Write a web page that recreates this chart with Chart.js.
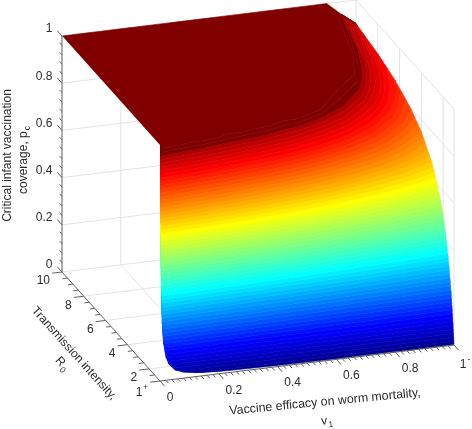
<!DOCTYPE html>
<html>
<head>
<meta charset="utf-8">
<title>Critical infant vaccination coverage</title>
<script src="https://cdn.jsdelivr.net/npm/chart.js@4"></script>
<style>
  html, body { margin: 0; padding: 0; background: #fff; }
  canvas { display: block; }
</style>
</head>
<body>
<canvas id="surface" width="472" height="429"></canvas>
<script>
// values
const efficacy = [0, 0.002, 0.003, 0.005, 0.008, 0.012, 0.02, 0.03, 0.05, 0.08, 0.12, 0.16, 0.2, 0.25, 0.3, 0.35, 0.4, 0.45, 0.5, 0.6, 0.7, 0.8, 0.85, 0.9, 0.95, 1];
const intensity = [1.002, 1.004, 1.006, 1.01, 1.015, 1.02, 1.03, 1.05, 1.08, 1.12, 1.2, 1.3, 1.5, 1.7, 2, 2.5, 3, 4, 5, 6.5, 8, 10];
// one row per efficacy value, one entry per intensity value
const coverage = [
  [1, 1, 1, 1, 1, 1, 1, 1, 1, 1, 1, 1, 1, 1, 1, 1, 1, 1, 1, 1, 1, 1],
  [1, 1, 1, 1, 1, 1, 1, 1, 1, 1, 1, 1, 1, 1, 1, 1, 1, 1, 1, 1, 1, 1],
  [.667, 1, 1, 1, 1, 1, 1, 1, 1, 1, 1, 1, 1, 1, 1, 1, 1, 1, 1, 1, 1, 1],
  [.4, .8, 1, 1, 1, 1, 1, 1, 1, 1, 1, 1, 1, 1, 1, 1, 1, 1, 1, 1, 1, 1],
  [.25, .5, .75, 1, 1, 1, 1, 1, 1, 1, 1, 1, 1, 1, 1, 1, 1, 1, 1, 1, 1, 1],
  [.167, .333, .5, .825, 1, 1, 1, 1, 1, 1, 1, 1, 1, 1, 1, 1, 1, 1, 1, 1, 1, 1],
  [.1, .2, .3, .495, .74, .98, 1, 1, 1, 1, 1, 1, 1, 1, 1, 1, 1, 1, 1, 1, 1, 1],
  [.067, .133, .2, .33, .493, .653, .97, 1, 1, 1, 1, 1, 1, 1, 1, 1, 1, 1, 1, 1, 1, 1],
  [.04, .08, .12, .198, .296, .392, .582, .952, 1, 1, 1, 1, 1, 1, 1, 1, 1, 1, 1, 1, 1, 1],
  [.025, .05, .075, .124, .185, .245, .364, .595, .926, 1, 1, 1, 1, 1, 1, 1, 1, 1, 1, 1, 1, 1],
  [.017, .033, .05, .083, .123, .163, .243, .397, .618, .893, 1, 1, 1, 1, 1, 1, 1, 1, 1, 1, 1, 1],
  [.013, .025, .038, .062, .093, .123, .182, .298, .463, .669, 1, 1, 1, 1, 1, 1, 1, 1, 1, 1, 1, 1],
  [.01, .02, .03, .05, .074, .098, .146, .238, .371, .536, .833, 1, 1, 1, 1, 1, 1, 1, 1, 1, 1, 1],
  [.008, .016, .024, .04, .059, .078, .116, .19, .296, .428, .667, .923, 1, 1, 1, 1, 1, 1, 1, 1, 1, 1],
  [.007, .013, .02, .033, .049, .065, .097, .159, .247, .357, .556, .769, 1, 1, 1, 1, 1, 1, 1, 1, 1, 1],
  [.006, .011, .017, .028, .042, .056, .083, .136, .212, .306, .476, .659, .952, 1, 1, 1, 1, 1, 1, 1, 1, 1],
  [.005, .01, .015, .025, .037, .049, .073, .119, .185, .268, .417, .577, .833, 1, 1, 1, 1, 1, 1, 1, 1, 1],
  [.004, .009, .013, .022, .033, .044, .065, .106, .165, .238, .37, .513, .741, .915, 1, 1, 1, 1, 1, 1, 1, 1],
  [.004, .008, .012, .02, .03, .039, .058, .095, .148, .214, .333, .462, .667, .824, 1, 1, 1, 1, 1, 1, 1, 1],
  [.003, .007, .01, .017, .025, .033, .049, .079, .123, .179, .278, .385, .556, .686, .833, 1, 1, 1, 1, 1, 1, 1],
  [.003, .006, .009, .014, .021, .028, .042, .068, .106, .153, .238, .33, .476, .588, .714, .857, .952, 1, 1, 1, 1, 1],
  [.003, .005, .008, .012, .019, .025, .036, .06, .093, .134, .208, .289, .417, .515, .625, .75, .833, .938, 1, 1, 1, 1],
  [.002, .005, .007, .012, .017, .023, .034, .056, .087, .126, .196, .272, .392, .484, .588, .706, .784, .882, .941, .995, 1, 1],
  [.002, .004, .007, .011, .016, .022, .032, .053, .082, .119, .185, .256, .37, .458, .556, .667, .741, .833, .889, .94, .972, 1],
  [.002, .004, .006, .01, .016, .021, .031, .05, .078, .113, .175, .243, .351, .433, .526, .632, .702, .789, .842, .891, .921, .947],
  [.002, .004, .006, .01, .015, .02, .029, .048, .074, .107, .167, .231, .333, .412, .5, .6, .667, .75, .8, .846, .875, .9]
];

const efficacyTicks = [0, 0.2, 0.4, 0.6, 0.8, 1];
const intensityTicks = [2, 4, 6, 8, 10];
const coverageTicks = [0, 0.2, 0.4, 0.6, 0.8, 1];
const colourLevels = 64;

// the 3d box seen from the front, flattened on to the x/y scales of the chart
function project(v, r0, z) {
    const t = (r0 - 1) / 9;
    return { x: 160 + 294 * v - 98 * t, y: 381 - 36 * v - 109 * t - 236 * z };
}

// jet colour map, the top few levels all look the same dark red in the reference
function jet(i) {
    let f = (i + 1) / colourLevels;
    if (f > 0.955) f = 1;
    const ramp = c => Math.round(255 * Math.max(0, Math.min(1, 1.5 - Math.abs(4 * f - c))));
    return `rgb(${ramp(3)},${ramp(2)},${ramp(1)})`;
}

// where one column of the table reaches a coverage level
function contourPoint(col, level) {
    const row = coverage[col];
    const last = row.length - 1;
    if (level <= row[0]) return project(efficacy[col], intensity[0], row[0]);
    if (level > row[last]) return project(efficacy[col], intensity[last], row[last]);
    let j = 1;
    while (row[j] < level) j++;
    const s = (level - row[j - 1]) / (row[j] - row[j - 1]);
    return project(efficacy[col], intensity[j - 1] + s * (intensity[j] - intensity[j - 1]), level);
}

function bandPolygon(i) {
    const low = i / colourLevels;
    const high = (i + 1) / colourLevels;
    const top = i === colourLevels - 1;
    let start = efficacy.findIndex((v, c) => coverage[c][0] <= high);
    start = Math.max(0, start - 1);
    const lower = [];
    const upper = [];
    for (let c = start; c < efficacy.length; c++) {
        lower.push(contourPoint(c, low));
        const row = coverage[c];
        upper.push(top ? project(efficacy[c], intensity[intensity.length - 1], row[row.length - 1]) : contourPoint(c, high));
    }
    return lower.concat(upper.reverse());
}

function lineSet(points, colour, width, order) {
    return { data: points, borderColor: colour, borderWidth: width, order: order, showLine: true, pointRadius: 0, fill: false, spanGaps: false };
}

function segments(pairs) {
    const out = [];
    pairs.forEach(p => { out.push(p[0], p[1], { x: NaN, y: NaN }); });
    return out;
}

function steps(from, to, by) {
    const out = [];
    const n = Math.round((to - from) / by);
    for (let i = 0; i <= n; i++) out.push(from + i * by);
    return out;
}

function tickEnd(p, dx, dy, len) {
    const d = Math.hypot(dx, dy);
    return { x: p.x + dx / d * len, y: p.y + dy / d * len };
}

// walls and floor
const gridColour = 'rgb(226,226,232)';
const wall = [];
[0.2, 0.4, 0.6, 0.8, 1].forEach(z => {
    wall.push([project(0, 10, z), project(1, 10, z)]);
    wall.push([project(1, 10, z), project(1, 1, z)]);
});
[0.2, 0.4, 0.6, 0.8, 1].forEach(v => {
    wall.push([project(v, 10, 0), project(v, 10, 1)]);
    wall.push([project(v, 1, 0), project(v, 10, 0)]);
});
[2, 4, 6, 8].forEach(r => {
    wall.push([project(1, r, 0), project(1, r, 1)]);
    wall.push([project(0, r, 0), project(1, r, 0)]);
});
wall.push([project(1, 1, 0), project(1, 1, 1)]);
wall.push([project(0, 10, 0), project(1, 10, 0)]);

// axes and their ticks
const axisColour = 'rgb(95,95,95)';
const axisLines = [
    [project(0, 10, 0), project(0, 10, 1)],
    [project(0, 10, 0), project(0, 1, 0)],
    [project(0, 1, 0), project(1, 1, 0)]
];
const isMajor = (x, list) => list.some(m => Math.abs(m - x) < 1e-6);
steps(0, 1, 0.04).forEach(z => {
    const p = project(0, 10, z);
    axisLines.push([p, tickEnd(p, -98, -109, isMajor(z, coverageTicks) ? 7 : 3.5)]);
});
steps(1, 10, 0.5).forEach(r => {
    const p = project(0, r, 0);
    axisLines.push([p, tickEnd(p, -294, 36, isMajor(r, intensityTicks) || r === 1 ? 10 : 5)]);
});
steps(0, 1, 0.02).forEach(v => {
    const p = project(v, 1, 0);
    axisLines.push([p, tickEnd(p, 98, 109, isMajor(v, efficacyTicks) ? 7 : 4)]);
});

const datasets = [lineSet(segments(wall), gridColour, 1, 500)];
for (let i = 0; i < colourLevels; i++) {
    datasets.push({
        data: bandPolygon(i),
        showLine: true,
        pointRadius: 0,
        fill: 'shape',
        backgroundColor: jet(i),
        borderColor: jet(i),
        borderWidth: 0.6,
        order: 100 - i
    });
}
datasets.push(lineSet(segments(axisLines), axisColour, 1, 1));

const textColour = '#2b2b2b';
const fontFamily = '"Liberation Sans", Arial, sans-serif';

// text with an optional sub or superscript after it
function putText(ctx, x, y, angle, size, text, small, shift, align) {
    const font = size + 'px ' + fontFamily;
    const smallFont = (size - 3.5) + 'px ' + fontFamily;
    ctx.save();
    ctx.translate(x, y);
    ctx.rotate(angle * Math.PI / 180);
    ctx.font = font;
    ctx.textBaseline = 'middle';
    ctx.textAlign = 'left';
    const w = ctx.measureText(text).width;
    ctx.font = smallFont;
    const sw = small ? ctx.measureText(small).width + 1 : 0;
    let left = -(w + sw) / 2;
    if (align === 'right') left = -(w + sw);
    ctx.font = font;
    ctx.fillText(text, left, 0);
    if (small) {
        ctx.font = smallFont;
        ctx.fillText(small, left + w + 1, shift);
    }
    ctx.restore();
}

const axisText = {
    id: 'axisText',
    afterDraw(chart) {
        const ctx = chart.ctx;
        ctx.save();
        ctx.fillStyle = textColour;
        coverageTicks.forEach(z => {
            const p = project(0, 10, z);
            putText(ctx, p.x - 9.5, p.y - 7, 0, 12, String(z), '', 0, 'right');
        });
        intensityTicks.forEach(r => {
            const p = project(0, r, 0);
            putText(ctx, p.x - 12, p.y + 9, 0, 12, String(r), '', 0, 'right');
        });
        const corner = project(0, 1, 0);
        putText(ctx, corner.x - 18, corner.y + 12, 0, 12, '1', '+', -5);
        efficacyTicks.slice(0, -1).forEach(v => {
            const p = project(v, 1, 0);
            putText(ctx, p.x + (v === 0 ? 10 : 15), p.y + 16.5, 0, 12, String(v));
        });
        const end = project(1, 1, 0);
        putText(ctx, end.x + 11, end.y + 20, 0, 12, '1', '-', -5);

        putText(ctx, 7.5, 155.5, -90, 12, 'Critical infant vaccination');
        putText(ctx, 24, 160, -90, 12, 'coverage, p', 'c', 4);
        putText(ctx, 74, 353.5, 48, 12, 'Transmission intensity,');
        putText(ctx, 62, 364, 48, 12, 'R', '0', 4);
        putText(ctx, 325, 402, -5.5, 12.4, 'Vaccine efficacy on worm mortality,');
        putText(ctx, 327, 421, -5.5, 12, 'v', '1', 4);
        ctx.restore();
    }
};

new Chart(document.getElementById('surface').getContext('2d'), {
    type: 'scatter',
    data: { datasets: datasets },
    options: {
        responsive: false,
        animation: false,
        events: [],
        layout: { padding: 0 },
        plugins: { legend: { display: false }, tooltip: { enabled: false }, title: { display: false } },
        scales: {
            x: { type: 'linear', display: false, min: 0, max: 472 },
            y: { type: 'linear', display: false, min: 0, max: 429, reverse: true }
        }
    },
    plugins: [axisText]
});
</script>
</body>
</html>
